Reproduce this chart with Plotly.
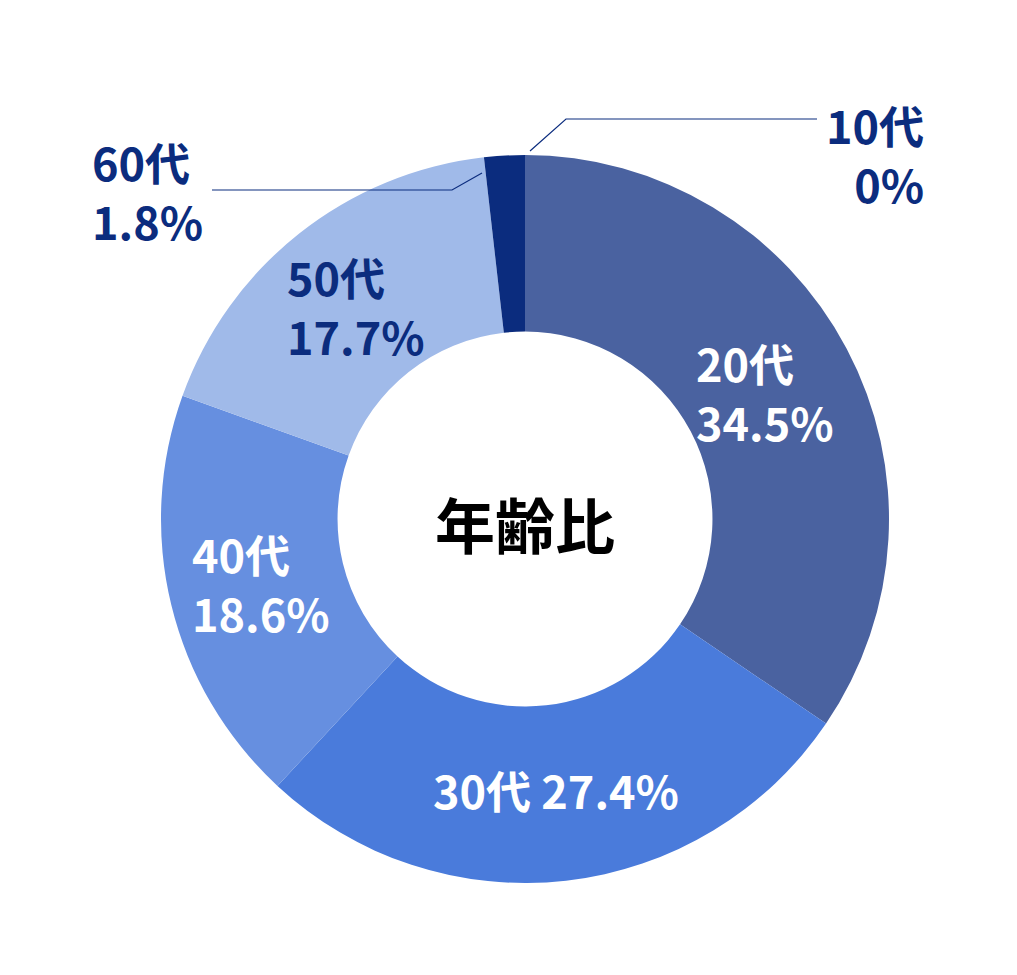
import math
import plotly.graph_objects as go

# データ
ages = ["10代", "20代", "30代", "40代", "50代", "60代"]
shares = [0, 34.5, 27.4, 18.6, 17.7, 1.8]
colors = ["#0B2C7E", "#4A62A0", "#4A7BDB", "#668FE0", "#A0BAE9", "#0B2C7E"]
text_colors = ["#0B2C7E", "#FFFFFF", "#FFFFFF", "#FFFFFF", "#0B2C7E", "#0B2C7E"]
outside = ["10代", "60代"]   # 外側に引き出し線で表示するラベル
one_line = ["30代"]          # 1行で表示するラベル

NAVY = "#0B2C7E"
FONT = "Noto Sans CJK JP"

W, H = 1017, 975
OFF = 8  # ページ余白の分
cx, cy, r = 525 - OFF, 519 - OFF, 364
r_text = 272

fig = go.Figure(go.Pie(
    labels=ages,
    values=shares,
    textinfo="none",
    marker=dict(colors=colors, line=dict(width=0)),
    hole=0.515,
    sort=False,
    direction="clockwise",
    rotation=0,
    showlegend=False,
    hoverinfo="label+percent",
    domain=dict(x=[(cx - r) / W, (cx + r) / W],
                y=[(H - cy - r) / H, (H - cy + r) / H]),
))

def px(x, y):
    return (x - OFF) / W, 1 - (y - OFF) / H

annotations = [
    dict(text="年齢比", x=px(525, 522)[0], y=px(525, 522)[1], showarrow=False,
         xanchor="center", yanchor="middle",
         font=dict(family=FONT, size=60, color="#000000", weight="bold")),
    dict(text="10代<br>0%", x=px(926, 154)[0], y=px(926, 154)[1],
         xanchor="right", yanchor="middle", align="right", showarrow=False,
         font=dict(family=FONT, size=45, color=NAVY, weight="bold")),
    dict(text="60代<br>1.8%", x=px(90, 191)[0], y=px(90, 191)[1],
         xanchor="left", yanchor="middle", align="left", showarrow=False,
         font=dict(family=FONT, size=45, color=NAVY, weight="bold")),
]

# 内側のラベル（各スライスの中央角度に配置）
total = sum(shares)
cum = 0
for a, s, tc in zip(ages, shares, text_colors):
    mid = (cum + s / 2) / total * 2 * math.pi
    cum += s
    if a in outside:
        continue
    label = f"{a} {s}%" if a in one_line else f"{a}<br>{s}%"
    x = (cx + r_text * math.sin(mid)) / W
    y = 1 - (cy + r_text * (-math.cos(mid))) / H
    annotations.append(dict(
        text=label, x=x, y=y, xanchor="center", yanchor="middle",
        align="left", showarrow=False,
        font=dict(family=FONT, size=45, color=tc, weight="bold"),
    ))

# 引き出し線
shapes = [
    dict(type="path", xref="paper", yref="paper",
         path="M {} {} L {} {} L {} {}".format(*px(530, 151), *px(566, 119), *px(817, 119)),
         line=dict(color=NAVY, width=1.2)),
    dict(type="path", xref="paper", yref="paper",
         path="M {} {} L {} {} L {} {}".format(*px(482, 173), *px(452, 190), *px(212, 190)),
         line=dict(color=NAVY, width=1.2)),
]

fig.update_layout(
    width=W, height=H,
    margin=dict(l=0, r=0, t=0, b=0),
    paper_bgcolor="white",
    plot_bgcolor="white",
    annotations=annotations,
    shapes=shapes,
)

fig.write_html("out.html")
